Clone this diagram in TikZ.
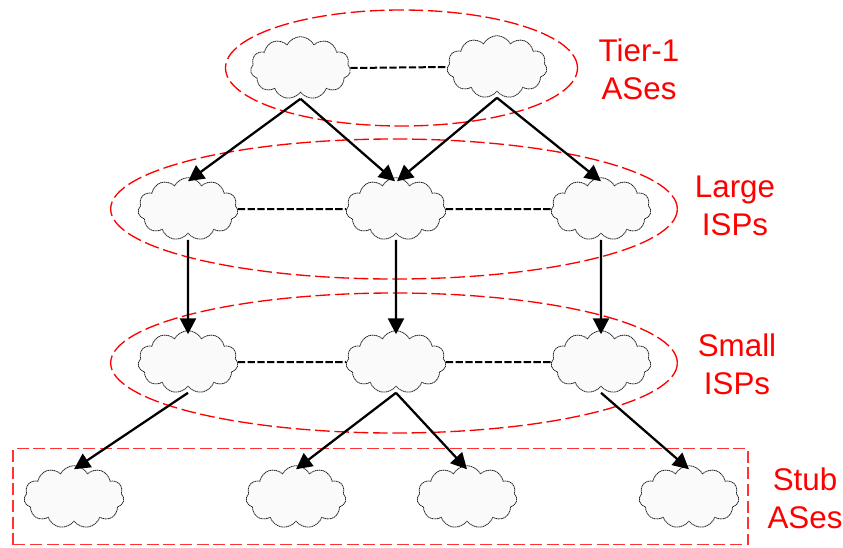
\documentclass[tikz,border=0pt]{standalone}
\usepackage{fontspec}
\setmainfont{Liberation Sans}
\usetikzlibrary{shapes.symbols,shapes.geometric,arrows.meta}
\tikzset{
    as/.style={cloud, cloud puffs=11, cloud puff arc=125, aspect=1.6, draw=black!85, line width=0.6pt, dash pattern=on 1pt off 0.4pt, fill=black!2, minimum width=75pt, minimum height=47pt, inner sep=0pt},
    tier/.style={ellipse, draw=red, line width=1pt, dash pattern=on 11pt off 3.5pt, inner sep=0pt},
    link/.style={line width=1.5pt, dash pattern=on 5.5pt off 1.8pt},
    provider/.style={line width=1.7pt, -{Triangle[length=12pt,width=12pt]}},
    tag/.style={text=red, align=center, font=\fontsize{23.5}{28.5}\selectfont}
}
\begin{document}
\begin{tikzpicture}[x=0.75pt,y=-0.75pt]
    \useasboundingbox (0,0) rectangle (843,547);

    % Red groups around the tiers
    \node[tier, minimum width=264pt, minimum height=87pt] (tierone) at (401.5,68) {};
    \node[tier, minimum width=425pt, minimum height=105pt] (large) at (394,209) {};
    \node[tier, minimum width=425pt, minimum height=105pt] (small) at (394,363) {};
    \node[draw=red!80, line width=1.4pt, dash pattern=on 9pt off 3.5pt, minimum width=551pt, minimum height=72pt, inner sep=0pt] (stub) at (380.5,496.5) {};

    % Tier-1 clouds
    \node[as] (ta) at (300.5,68) {};
    \node[as] (tb) at (497,67) {};

    % Large ISP clouds
    \node[as] (la) at (188,209) {};
    \node[as] (lb) at (396,209) {};
    \node[as] (lc) at (601,209) {};

    % Small ISP clouds
    \node[as] (sa) at (188,362) {};
    \node[as] (sb) at (396,362) {};
    \node[as] (sc) at (601,362) {};

    % Stub clouds
    \node[as] (ua) at (74,497) {};
    \node[as] (ub) at (296,497) {};
    \node[as] (uc) at (467,497) {};
    \node[as] (ud) at (689,497) {};

    % Dashed peering links
    \draw[link] (ta.east) -- (tb.west);
    \draw[link] (la.east) -- (lb.west);
    \draw[link] (lb.east) -- (lc.west);
    \draw[link] (sa.east) -- (sb.west);
    \draw[link] (sb.east) -- (sc.west);

    % Provider arrows
    \draw[provider] ([yshift=-4.5pt]ta.south) -- ([yshift=-3pt]la.north);
    \draw[provider] ([yshift=-4.5pt]ta.south) -- ([xshift=-0.75pt,yshift=-3pt]lb.north);
    \draw[provider] ([yshift=-4.5pt]tb.south) -- ([xshift=0.75pt,yshift=-3pt]lb.north);
    \draw[provider] ([yshift=-4.5pt]tb.south) -- ([yshift=-3pt]lc.north);
    \draw[provider] ([yshift=-4.5pt]la.south) -- ([yshift=-3pt]sa.north);
    \draw[provider] ([yshift=-4.5pt]lb.south) -- ([yshift=-3pt]sb.north);
    \draw[provider] ([yshift=-4.5pt]lc.south) -- ([yshift=-3pt]sc.north);
    \draw[provider] ([yshift=-4.5pt]sa.south) -- ([yshift=-3pt]ua.north);
    \draw[provider] ([yshift=-4.5pt]sb.south) -- ([yshift=-3pt]ub.north);
    \draw[provider] ([yshift=-4.5pt]sb.south) -- ([yshift=-3pt]uc.north);
    \draw[provider] ([yshift=-4.5pt]sc.south) -- ([yshift=-3pt]ud.north);

    % Labels
    \node[tag] (tiertag) at (639,69) {Tier-1\\ASes};
    \node[tag] (largetag) at (735,206) {Large\\ISPs};
    \node[tag] (smalltag) at (737,364) {Small\\ISPs};
    \node[tag] (stubtag) at (805,498) {Stub\\ASes};

\end{tikzpicture}
\end{document}
